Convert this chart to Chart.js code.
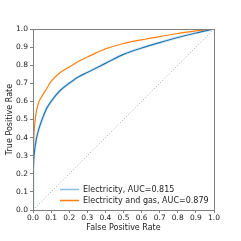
<!DOCTYPE html>
<html><head><meta charset="utf-8">
<script src="https://cdn.jsdelivr.net/npm/chart.js@4"></script>
<style>html,body{margin:0;padding:0;background:#fff}#w{width:241px;height:241px}</style>
</head><body><div id="w"><canvas id="c"></canvas></div>
<script>
const tickValues = [0,0.1,0.2,0.3,0.4,0.5,0.6,0.7,0.8,0.9,1.0];
const elecFpr = [0,0,0.005,0.01,0.02,0.03,0.05,0.075,0.1,0.15,0.2,0.25,0.3,0.4,0.5,0.6,0.7,0.8,0.9,1.0];
const elecTpr = [0,0.2,0.29,0.34,0.40,0.44,0.50,0.56,0.60,0.66,0.70,0.735,0.76,0.81,0.86,0.895,0.925,0.953,0.978,1.0];
const gasFpr = [0,0,0.003,0.01,0.02,0.03,0.05,0.075,0.1,0.15,0.2,0.25,0.3,0.4,0.5,0.6,0.7,0.8,0.9,1.0];
const gasTpr = [0,0.15,0.35,0.48,0.55,0.59,0.63,0.67,0.71,0.76,0.79,0.82,0.845,0.89,0.92,0.94,0.958,0.975,0.99,1.0];
const diagX = [0,1];
const diagY = [0,1];
const labels = ['Electricity, AUC=0.815','Electricity and gas, AUC=0.879'];

const pts = (xs,ys)=>xs.map((x,i)=>({x:x,y:ys[i]}));
const TICKFONT = {family:'"DejaVu Sans"', size:7.5};
const FONT = {family:'"DejaVu Sans"', size:8};

const boxPlugin = {
  id:'box',
  afterDatasetsDraw(chart){
    const {ctx, chartArea:a} = chart;
    ctx.save();
    ctx.strokeStyle = '#808080'; ctx.lineWidth = 1;
    ctx.strokeRect(Math.round(a.left)+0.5, Math.round(a.top)+0.5, Math.round(a.right-a.left), Math.round(a.bottom-a.top));
    const items = [{label:labels[0], color:'#8dbfe0'},{label:labels[1], color:'#ff7f0e'}];
    ctx.font = '8px "DejaVu Sans"';
    ctx.textBaseline = 'middle';
    items.forEach((it,i)=>{
      const y = Math.round(a.top + (a.bottom-a.top)*0.875) + 2 + i*11 + 0.5;
      const x0 = a.left + 27;
      ctx.strokeStyle = it.color; ctx.lineWidth = 1.5;
      ctx.beginPath(); ctx.moveTo(x0,y); ctx.lineTo(x0+19,y); ctx.stroke();
      ctx.fillStyle = '#222';
      ctx.fillText(it.label, x0+23, y);
    });
    ctx.restore();
  }
};

new Chart(document.getElementById('c'), {
  type:'scatter',
  data:{datasets:[
    {label:'diag', data:pts(diagX,diagY), showLine:true, borderColor:'#aaaaaa', borderWidth:1, borderDash:[1,2], pointRadius:0},
    {label:labels[0]+' band', data:pts(elecFpr,elecTpr), showLine:true, borderColor:'rgba(31,119,180,0.15)', borderWidth:3, pointRadius:0, cubicInterpolationMode:'monotone'},
    {label:labels[0], data:pts(elecFpr,elecTpr), showLine:true, borderColor:'#1f77b4', borderWidth:1.2, pointRadius:0, cubicInterpolationMode:'monotone'},
    {label:labels[1], data:pts(gasFpr,gasTpr), showLine:true, borderColor:'#ff7f0e', borderWidth:1.2, pointRadius:0, cubicInterpolationMode:'monotone'}
  ]},
  options:{
    responsive:true, maintainAspectRatio:false, animation:false,
    layout:{padding:{top:29,right:27,left:0,bottom:8}},
    plugins:{legend:{display:false}, tooltip:{enabled:false}},
    scales:{
      x:{type:'linear', min:0, max:1,
        afterBuildTicks(s){s.ticks = tickValues.map(v=>({value:v}));},
        afterFit(s){s.height = 23;},
        ticks:{font:TICKFONT, color:'#222', padding:1, maxRotation:0, autoSkip:false, callback:v=>v.toFixed(1)},
        grid:{display:true, drawOnChartArea:false, drawTicks:true, tickLength:3, color:'#808080'},
        border:{display:true, color:'#808080'},
        title:{display:true, text:'False Positive Rate', font:FONT, color:'#222', padding:{top:0,bottom:0}}
      },
      y:{type:'linear', min:0, max:1,
        afterBuildTicks(s){s.ticks = tickValues.map(v=>({value:v}));},
        afterFit(s){s.width = 33;},
        ticks:{font:TICKFONT, color:'#222', padding:2, autoSkip:false, callback:v=>v.toFixed(1)},
        grid:{display:true, drawOnChartArea:false, drawTicks:true, tickLength:3, color:'#808080'},
        border:{display:true, color:'#808080'},
        title:{display:true, text:'True Positive Rate', font:FONT, color:'#222', padding:{top:5,bottom:0}}
      }
    }
  },
  plugins:[boxPlugin]
});
</script></body></html>
